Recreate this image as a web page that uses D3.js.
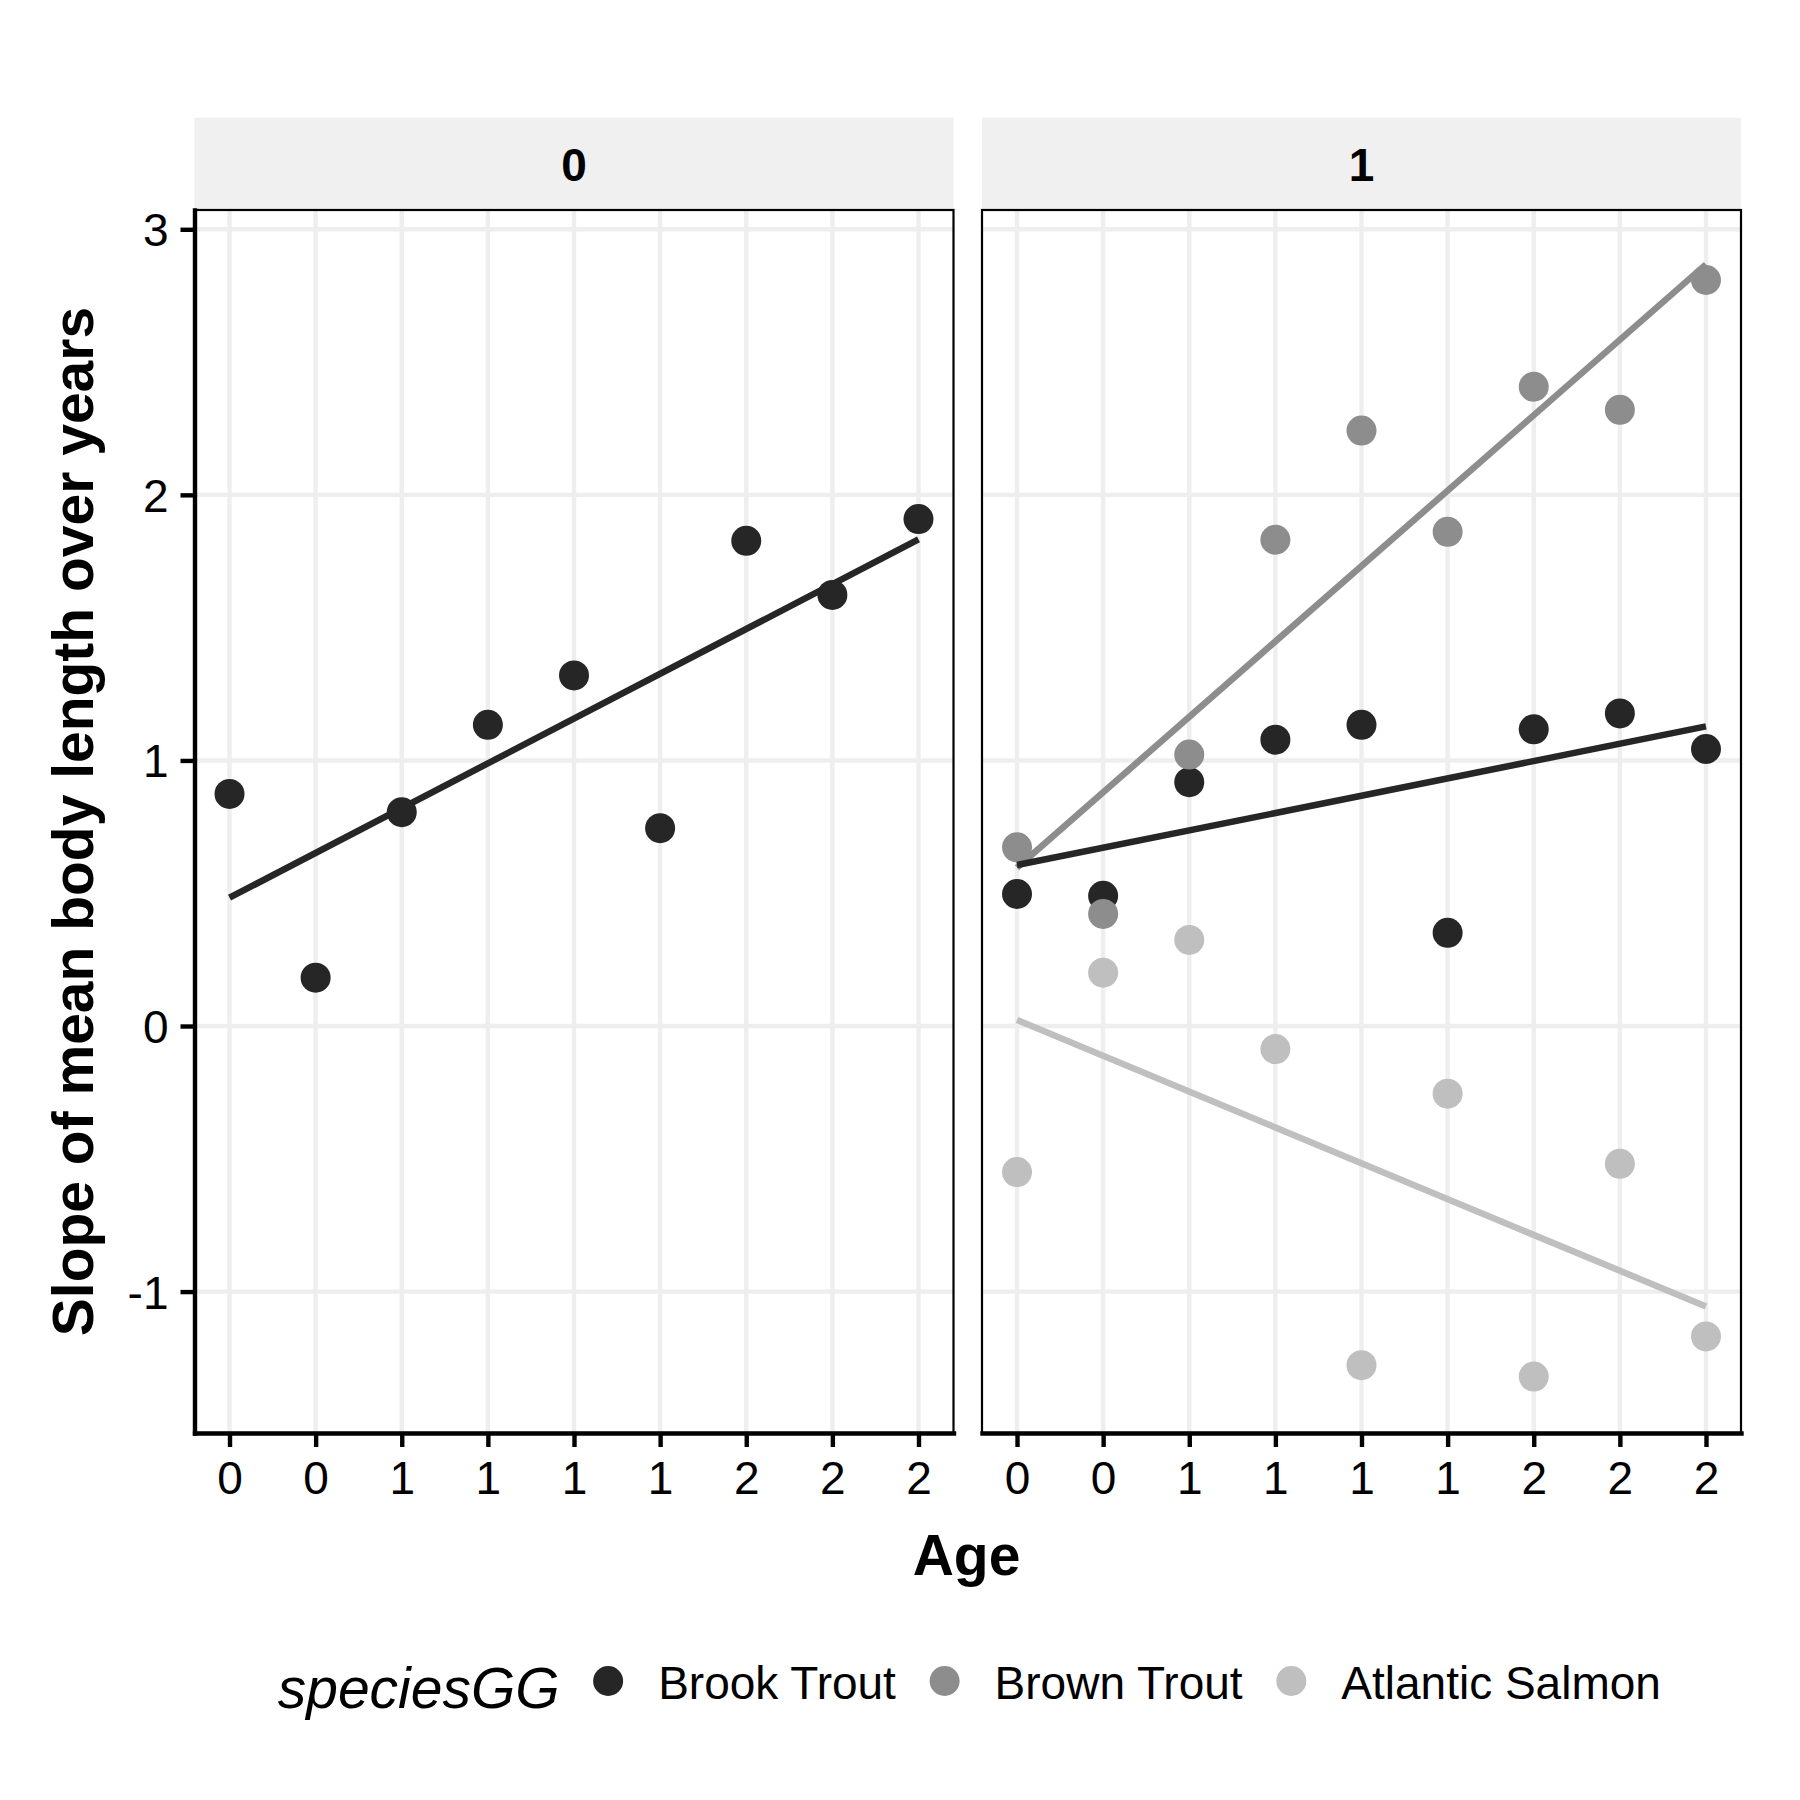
<!DOCTYPE html>
<html>
<head>
<meta charset="utf-8">
<script src="https://cdn.jsdelivr.net/npm/d3@7"></script>
<style>
  body { margin: 0; background: #fff; }
  text { font-family: "Liberation Sans", Arial, sans-serif; fill: #000; }
</style>
</head>
<body>
<svg id="chart" width="1800" height="1800"></svg>
<script>
// x categories: sites, labelled with their age class
const ageLabels = ["0", "0", "1", "1", "1", "1", "2", "2", "2"];
const facets = ["0", "1"];
const species = ["Brook Trout", "Brown Trout", "Atlantic Salmon"];
const speciesColors = ["#262626", "#8d8d8d", "#bfbfbf"];

// slope of mean body length over years, one value per site
const brookTrout0 = [0.874, 0.182, 0.805, 1.134, 1.320, 0.745, 1.827, 1.623, 1.909];
const brookTrout1 = [0.497, 0.490, 0.918, 1.078, 1.134, 0.351, 1.117, 1.177, 1.043];
const brownTrout1 = [0.673, 0.422, 1.022, 1.831, 2.242, 1.861, 2.407, 2.320, 2.809];
const atlanticSalmon1 = [-0.550, 0.201, 0.324, -0.087, -1.277, -0.255, -1.320, -0.519, -1.169];

const yTicks = [-1, 0, 1, 2, 3];
const yDomain = [-1.5325, 3.0726];

const series = [
  { facet: "0", species: "Brook Trout", values: brookTrout0 },
  { facet: "1", species: "Brook Trout", values: brookTrout1 },
  { facet: "1", species: "Brown Trout", values: brownTrout1 },
  { facet: "1", species: "Atlantic Salmon", values: atlanticSalmon1 }
];

// layout
const panelTop = 210, panelBottom = 1433;
const panelW = 759;
const panelX = { "0": 194.5, "1": 982 };
const stripTop = 117.7;
const tickLen = 14;

const svg = d3.select("#chart");
const color = d3.scaleOrdinal().domain(species).range(speciesColors);

const x = d3.scalePoint()
  .domain(d3.range(ageLabels.length))
  .range([0, panelW])
  .padding(0.4065);

const y = d3.scaleLinear()
  .domain(yDomain)
  .range([panelBottom, panelTop]);

// least squares fit over the site index (geom_smooth method = "lm")
function fitLine(values) {
  const xs = values.map((v, i) => i);
  const mx = d3.mean(xs), my = d3.mean(values);
  const slope = d3.sum(xs, (xi, i) => (xi - mx) * (values[i] - my)) / d3.sum(xs, xi => (xi - mx) ** 2);
  const icpt = my - slope * mx;
  return [0, values.length - 1].map(i => ({ i: i, v: icpt + slope * i }));
}

facets.forEach(f => {
  const g = svg.append("g").attr("transform", `translate(${panelX[f]},0)`);

  // strip
  g.append("rect")
    .attr("x", 0).attr("y", stripTop)
    .attr("width", panelW).attr("height", panelTop - stripTop)
    .attr("fill", "#f0f0f0");
  g.append("text")
    .attr("x", panelW / 2).attr("y", 181)
    .attr("text-anchor", "middle")
    .style("font-size", "46px").style("font-weight", "bold")
    .text(f);

  // grid
  g.selectAll(".vgrid")
    .data(x.domain()).enter()
    .append("line")
    .attr("x1", d => x(d)).attr("x2", d => x(d))
    .attr("y1", panelTop).attr("y2", panelBottom)
    .attr("stroke", "#eeeeee").attr("stroke-width", 4.4);
  g.selectAll(".hgrid")
    .data(yTicks).enter()
    .append("line")
    .attr("x1", 0).attr("x2", panelW)
    .attr("y1", d => y(d)).attr("y2", d => y(d))
    .attr("stroke", "#eeeeee").attr("stroke-width", 4.4);

  const fs = series.filter(s => s.facet === f);

  // points
  fs.forEach(s => {
    g.selectAll(null)
      .data(s.values).enter()
      .append("circle")
      .attr("cx", (d, i) => x(i))
      .attr("cy", d => y(d))
      .attr("r", 15)
      .attr("fill", color(s.species));
  });

  // fitted lines, brook trout on top
  fs.slice().reverse().forEach(s => {
    g.append("path")
      .datum(fitLine(s.values))
      .attr("d", d3.line().x(d => x(d.i)).y(d => y(d.v)))
      .attr("fill", "none")
      .attr("stroke", color(s.species))
      .attr("stroke-width", 6.5);
  });

  // panel border
  g.append("rect")
    .attr("x", 0).attr("y", panelTop)
    .attr("width", panelW).attr("height", panelBottom - panelTop)
    .attr("fill", "none").attr("stroke", "#000").attr("stroke-width", 2.2);

  // x axis
  const xAxis = g.append("g")
    .attr("transform", `translate(0,${panelBottom})`)
    .call(d3.axisBottom(x).tickSize(tickLen).tickSizeOuter(0).tickPadding(14)
      .tickFormat(i => ageLabels[i]));
  xAxis.select(".domain").attr("stroke-width", 4.4).attr("stroke-linecap", "square");
  xAxis.selectAll(".tick line").attr("stroke-width", 4.4);
  xAxis.selectAll(".tick text").attr("fill", "#000").style("font-size", "46px");

  // y axis only on the first panel
  if (f === facets[0]) {
    const yAxis = g.append("g")
      .call(d3.axisLeft(y).tickValues(yTicks).tickSize(tickLen).tickSizeOuter(0).tickPadding(12)
        .tickFormat(d => String(d)));
    yAxis.select(".domain").attr("stroke-width", 4.4).attr("stroke-linecap", "square");
    yAxis.selectAll(".tick line").attr("stroke-width", 4.4);
    yAxis.selectAll(".tick text").attr("fill", "#000").attr("dy", "0.36em")
      .style("font-size", "46px");
  }
});
svg.selectAll("g").attr("font-family", null).attr("font-size", null);

// axis titles
svg.append("text")
  .attr("x", 966.5).attr("y", 1575)
  .attr("text-anchor", "middle")
  .style("font-size", "57px").style("font-weight", "bold")
  .text("Age");
svg.append("text")
  .attr("transform", `translate(93.3,${(panelTop + panelBottom) / 2}) rotate(-90)`)
  .attr("text-anchor", "middle")
  .style("font-size", "57px").style("font-weight", "bold")
  .text("Slope of mean body length over years");

// legend
const legend = svg.append("g");
const title = legend.append("text")
  .attr("x", 0).attr("y", 1708)
  .style("font-size", "57px").style("font-style", "italic")
  .text("speciesGG");
let lx = title.node().getComputedTextLength() + 48.5;
species.forEach(s => {
  legend.append("circle")
    .attr("cx", lx).attr("cy", 1681).attr("r", 15)
    .attr("fill", color(s));
  const t = legend.append("text")
    .attr("x", lx + 50).attr("y", 1698.5)
    .style("font-size", "46px")
    .text(s);
  lx += 50 + t.node().getComputedTextLength() + 48.7;
});
const legendW = lx - 48.7;
legend.attr("transform", `translate(${969.3 - legendW / 2},0)`);
</script>
</body>
</html>
